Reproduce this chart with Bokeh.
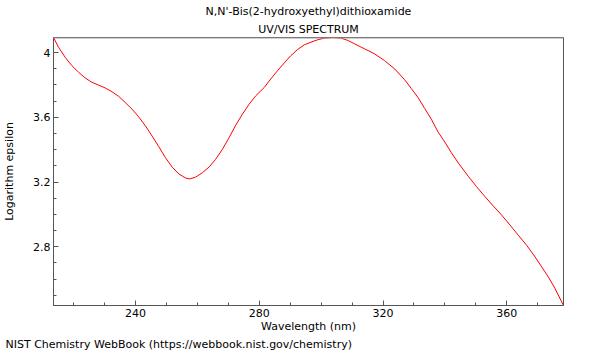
from bokeh.plotting import figure
from bokeh.models import Range1d, FixedTicker, CustomJSTickFormatter, Title, Span
from bokeh.embed import file_html
from bokeh.resources import INLINE

# Data
wavelength = [213.47, 215.09, 217.23, 219.40, 221.58, 223.72, 225.89, 228.06, 230.20, 232.38,
              234.55, 236.69, 238.86, 241.04, 243.18, 245.35, 247.53, 249.67, 251.84, 254.01,
              256.15, 257.45, 259.40, 261.57, 263.74, 265.88, 268.06, 270.23, 272.37, 274.54,
              276.72, 278.86, 281.58, 283.72, 285.90, 288.07, 290.21, 292.38, 294.56, 296.70,
              298.87, 301.04, 303.74, 306.43, 308.60, 310.78, 314.02, 317.26, 320.51, 323.75,
              326.99, 329.13, 331.31, 333.48, 335.62, 337.79, 339.97, 342.11, 344.28, 347.52,
              350.22, 352.94, 355.63, 358.33, 361.05, 363.74, 366.43, 369.16, 371.30, 373.47,
              375.65, 378.34]
log_eps = [4.093, 4.033, 3.971, 3.919, 3.878, 3.843, 3.816, 3.799, 3.781, 3.758,
           3.729, 3.691, 3.650, 3.602, 3.547, 3.484, 3.418, 3.350, 3.292, 3.250,
           3.225, 3.219, 3.230, 3.257, 3.292, 3.340, 3.402, 3.474, 3.551, 3.619,
           3.681, 3.733, 3.784, 3.837, 3.888, 3.936, 3.981, 4.019, 4.048, 4.064,
           4.079, 4.089, 4.093, 4.089, 4.075, 4.054, 4.023, 3.992, 3.950, 3.899,
           3.832, 3.778, 3.722, 3.654, 3.588, 3.509, 3.447, 3.381, 3.319, 3.236,
           3.172, 3.110, 3.052, 2.996, 2.934, 2.871, 2.809, 2.737, 2.675, 2.613,
           2.540, 2.437]

x_major = [240, 280, 320, 360]
x_minor = [220, 230, 240, 250, 260, 270, 280, 290, 300, 310, 320, 330, 340, 350, 360, 370]
y_major = [2.8, 3.2, 3.6, 4.0]
y_minor = [2.5, 2.6, 2.7, 2.8, 2.9, 3.0, 3.1, 3.2, 3.3, 3.4, 3.5, 3.6, 3.7, 3.8, 3.9, 4.0]

title_main = "N,N'-Bis(2-hydroxyethyl)dithioxamide"
title_sub = "UV/VIS SPECTRUM"
x_label = "Wavelength (nm)"
y_label = "Logarithm epsilon"
credit = "NIST Chemistry WebBook (https://webbook.nist.gov/chemistry)"

FONT = "DejaVu Sans"
FS = "11px"

p = figure(frame_width=510, frame_height=268, output_backend="svg", toolbar_location=None,
           x_range=Range1d(min(wavelength), max(wavelength)),
           y_range=Range1d(min(log_eps), max(log_eps)),
           min_border_left=48, min_border_right=26, min_border_top=32, min_border_bottom=44,
           title=None)

p.background_fill_color = "white"
p.border_fill_color = "white"
p.xgrid.visible = False
p.ygrid.visible = False
p.outline_line_color = "#555555"
p.outline_line_width = 1

p.line(wavelength, log_eps, line_color="#ff0000", line_width=1)

p.add_layout(Span(location=max(log_eps), dimension="width", line_color="#a0a0a0", line_width=2))

for ax in (p.xaxis[0], p.yaxis[0]):
    ax.axis_line_color = "#555555"
    ax.major_tick_line_color = "#555555"
    ax.minor_tick_line_color = "#555555"
    ax.major_tick_in = 5
    ax.major_tick_out = 0
    ax.minor_tick_in = 3
    ax.minor_tick_out = 0
    ax.major_label_text_font = FONT
    ax.major_label_text_font_size = FS
    ax.major_label_text_color = "black"
    ax.axis_label_text_font = FONT
    ax.axis_label_text_font_size = FS
    ax.axis_label_text_font_style = "normal"
    ax.axis_label_text_color = "black"

p.xaxis.ticker = FixedTicker(ticks=x_major, minor_ticks=x_minor)
p.yaxis.ticker = FixedTicker(ticks=y_major, minor_ticks=y_minor)
p.yaxis.formatter = CustomJSTickFormatter(code="return tick.toFixed(1).replace(/\\.0$/, '');")
p.xaxis.formatter = CustomJSTickFormatter(code="return tick.toFixed(0);")
p.xaxis.axis_label = x_label
p.yaxis.axis_label = y_label
p.xaxis.major_label_standoff = 3
p.xaxis.axis_label_standoff = 0
p.yaxis.major_label_standoff = 3
p.yaxis.axis_label_standoff = 14

p.add_layout(Title(text=title_sub, align="center", text_font=FONT, text_font_size=FS,
                   text_font_style="normal", text_color="black", standoff=3), "above")
p.add_layout(Title(text=title_main, align="center", text_font=FONT, text_font_size=FS,
                   text_font_style="normal", text_color="black", standoff=4), "above")
p.add_layout(Title(text=credit, align="left", offset=-48, text_font=FONT, text_font_size=FS,
                   text_font_style="normal", text_color="black", standoff=0), "below")

open("out.html", "w").write(file_html(p, INLINE))
